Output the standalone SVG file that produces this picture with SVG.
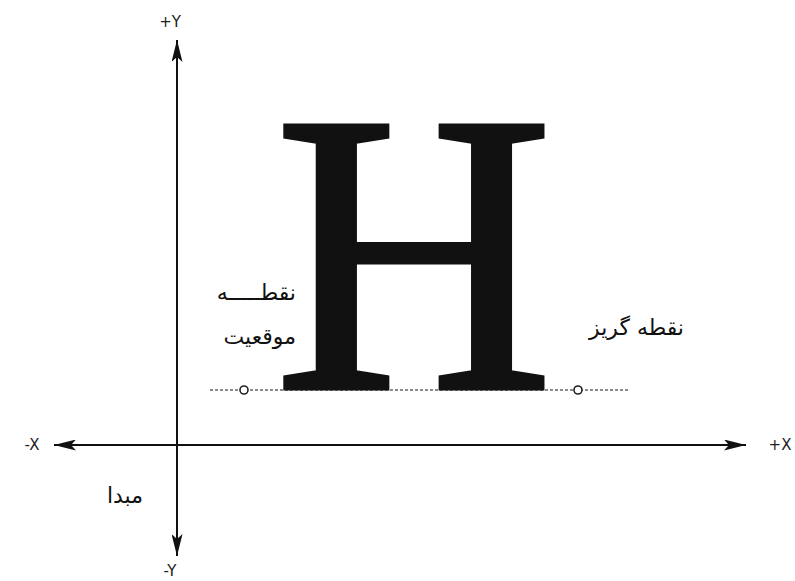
<svg xmlns="http://www.w3.org/2000/svg" width="795" height="581" viewBox="0 0 795 581">
<defs>
<marker id="ah" viewBox="0 0 22 11" refX="22" refY="5.5" markerWidth="22" markerHeight="11" markerUnits="userSpaceOnUse" orient="auto">
<path d="M0,0 L22,5.5 L0,11 L5,5.5 Z" fill="#111"/>
</marker>
</defs>
<style>
.axis{stroke:#111;stroke-width:2;fill:none}
.lbl{font-family:"DejaVu Sans","Liberation Sans",sans-serif;font-size:15px;fill:#222}
.fa{font-family:"DejaVu Sans","Noto Sans",sans-serif;font-size:22px;fill:#111}
.base{stroke:#666;stroke-width:1.5;stroke-dasharray:3 2;fill:none}
.pt{fill:#fff;stroke:#222;stroke-width:1.6}
</style>
<rect width="795" height="581" fill="#fff"/>
<g id="connectors">
<line class="axis" x1="177" y1="520" x2="177" y2="40" marker-end="url(#ah)"/>
<line class="axis" x1="177" y1="380" x2="177" y2="556" marker-end="url(#ah)"/>
<line class="axis" x1="300" y1="445" x2="54" y2="445" marker-end="url(#ah)"/>
<line class="axis" x1="100" y1="445" x2="746" y2="445" marker-end="url(#ah)"/>
<line class="base" x1="210" y1="390" x2="628" y2="390"/>
</g>
<g id="glyph">
<text x="414" y="388" text-anchor="middle" font-family="Liberation Serif, serif" font-size="400" fill="#111" stroke="#111" stroke-width="5" stroke-linejoin="miter" transform="translate(414 0) scale(0.965 1) translate(-414 0)">H</text>
</g>
<g id="points">
<circle class="pt" cx="244" cy="390" r="4"/>
<circle class="pt" cx="578" cy="390" r="4"/>
</g>
<g id="labels">
<text class="lbl" x="170" y="27" text-anchor="middle">+Y</text>
<text class="lbl" x="170" y="576" text-anchor="middle">-Y</text>
<text class="lbl" x="32" y="450" text-anchor="middle">-X</text>
<text class="lbl" x="780" y="450" text-anchor="middle">+X</text>
<text class="fa" x="296" y="300" text-anchor="end">نقطـــــه</text>
<text class="fa" x="296" y="344" text-anchor="end">موقعیت</text>
<text class="fa" x="684" y="335" text-anchor="end">نقطه گریز</text>
<text class="fa" x="143" y="503" text-anchor="end">مبدا</text>
</g>
</svg>
